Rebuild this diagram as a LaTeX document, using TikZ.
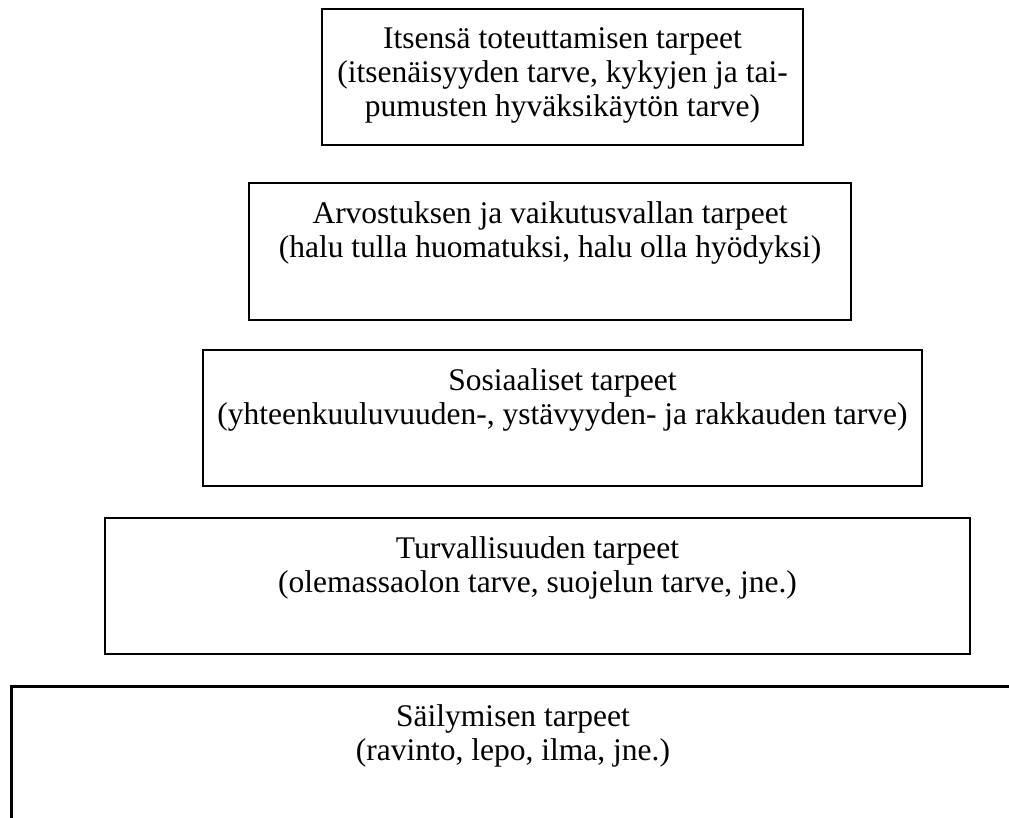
\documentclass[tikz,border=0pt]{standalone}
\usepackage{fontspec}
\setmainfont{Liberation Serif}
\begin{document}
\begin{tikzpicture}[x=1pt,y=-1pt,
  tier/.style={draw=black, line width=2pt, rectangle, inner sep=0pt},
  lbl/.style={font=\fontsize{31.5}{34}\selectfont, align=center, inner sep=0pt, anchor=north}]
\useasboundingbox (0,0) rectangle (1009,818);
\clip (0,0) rectangle (1009,818);
% tier boxes
\node[tier, minimum width=481pt, minimum height=136pt] (b1) at (562.5,77) {};
\node[tier, minimum width=602pt, minimum height=137pt] (b2) at (550,251.5) {};
\node[tier, minimum width=719pt, minimum height=136pt] (b3) at (562.5,418) {};
\node[tier, minimum width=865pt, minimum height=136pt] (b4) at (537.5,586) {};
\node[tier, line width=2.5pt, minimum width=1010pt, minimum height=200pt, anchor=north west] (b5) at (10,685) {};
% labels
\node[lbl] (t1) at ([yshift=-19pt]b1.north) {Itsensä toteuttamisen tarpeet\\(itsenäisyyden tarve, kykyjen ja tai-\\pumusten hyväksikäytön tarve)};
\node[lbl] (t2) at ([yshift=-19pt]b2.north) {Arvostuksen ja vaikutusvallan tarpeet\\(halu tulla huomatuksi, halu olla hyödyksi)};
\node[lbl] (t3) at ([yshift=-19pt]b3.north) {Sosiaaliset tarpeet\\(yhteenkuuluvuuden-, ystävyyden- ja rakkauden tarve)};
\node[lbl] (t4) at ([yshift=-19pt]b4.north) {Turvallisuuden tarpeet\\(olemassaolon tarve, suojelun tarve, jne.)};
\node[lbl] (t5) at ([yshift=-19pt]513,685) {Säilymisen tarpeet\\(ravinto, lepo, ilma, jne.)};
\end{tikzpicture}
\end{document}
